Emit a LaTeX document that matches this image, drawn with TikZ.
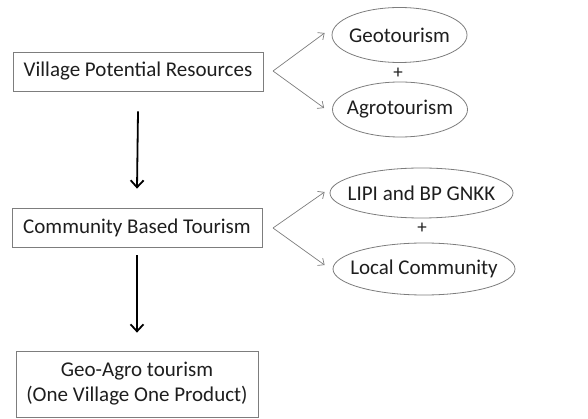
\documentclass[tikz,border=0pt]{standalone}
\usepackage{fontspec}
\setmainfont{Carlito}
\usetikzlibrary{shapes.geometric,arrows.meta}
\definecolor{edge}{RGB}{125,125,125}
\definecolor{txt}{RGB}{30,30,30}
\begin{document}
\begin{tikzpicture}[x=1pt,y=-1pt,
  box/.style={draw=edge,line width=0.8pt,text=txt,font=\fontsize{21}{25}\selectfont,inner sep=0pt,align=center},
  oval/.style={draw=edge,line width=0.8pt,ellipse,inner sep=0pt,
     label={[text=txt,font=\fontsize{21}{25}\selectfont,inner sep=0pt]center:#1}},
  thin/.style={draw=edge,line width=0.7pt,-{Straight Barb[length=5pt,width=9pt]}},
  thick/.style={draw=black,line width=1.8pt,-{Straight Barb[length=7pt,width=13pt]}},
  plus/.style={text=txt,font=\fontsize{19}{22}\selectfont,inner sep=0pt}]
\useasboundingbox (0,0) rectangle (588,419);
\node[box,minimum width=250,minimum height=39] (b1) at (138,71.5) {Village Potential Resources};
\node[box,minimum width=250,minimum height=39] (b2) at (137,227.5) {Community Based Tourism};
\node[box,minimum width=242,minimum height=66] (b3) at (137,384) {Geo-Agro tourism\\(One Village One Product)};
\node[oval=Geotourism,minimum width=135,minimum height=55] (geo) at (399.5,35) {};
\node[oval=Agrotourism,minimum width=135,minimum height=55] (agro) at (400,109.5) {};
\node[oval={LIPI and BP GNKK},minimum width=183,minimum height=50] (lipi) at (421.5,193) {};
\node[oval={Local Community},minimum width=182,minimum height=52] (loc) at (424,269) {};
\node[plus] (p1) at (398,73) {+};
\node[plus] (p2) at (422,228) {+};
\coordinate (s1) at (273,71);
\coordinate (s2) at (273,228);
\draw[thin] (s1) -- ([xshift=-7,yshift=2]geo.west);
\draw[thin] (s1) -- ([xshift=-8,yshift=1.5]agro.west);
\draw[thin] (s2) -- ([xshift=-5,yshift=1]lipi.west);
\draw[thin] (s2) -- ([xshift=-8,yshift=4]loc.west);
\draw[thick] ([yshift=-20]b1.south) -- ([yshift=19]b2.north);
\draw[thick] ([yshift=-8]b2.south) -- ([yshift=18]b3.north);
\end{tikzpicture}
\end{document}
